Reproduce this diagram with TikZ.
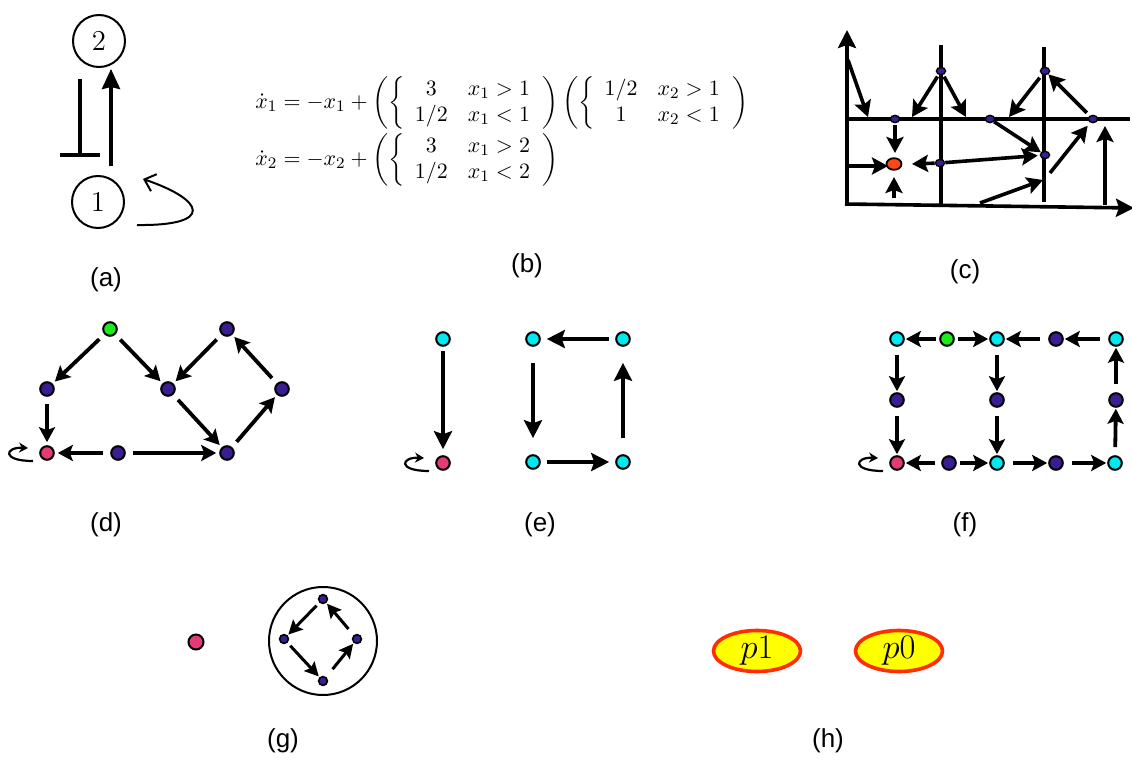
\documentclass[tikz,border=0pt]{standalone}
\usepackage{fontspec}
\usepackage{amsmath}
\newfontfamily\labfont{Liberation Sans}
\usetikzlibrary{arrows.meta,shapes.geometric}
\definecolor{dblue}{RGB}{58,30,145}
\definecolor{ccyan}{RGB}{0,232,240}
\definecolor{cgreen}{RGB}{30,235,30}
\definecolor{cpink}{RGB}{228,58,120}
\definecolor{cred}{RGB}{255,70,20}
\definecolor{pborder}{RGB}{255,45,0}
\definecolor{pyellow}{RGB}{255,255,0}
\begin{document}
\begin{tikzpicture}[x=0.5pt,y=-0.5pt,
  lab/.style={font=\labfont\fontsize{13}{15}\selectfont},
  arr/.style={line width=1.9pt,-{Stealth[length=8pt,width=8pt,inset=1.5pt]}},
  garr/.style={line width=1.5pt,-{Stealth[length=7pt,width=7pt,inset=1.2pt]},shorten <=2pt,shorten >=0.5pt},
  dot/.style={circle,draw=black,line width=1pt,minimum size=6.8pt,inner sep=0pt},
  bdot/.style={dot,fill=dblue},
  cdot/.style={dot,fill=ccyan},
  gdot/.style={dot,fill=cgreen},
  pdot/.style={dot,fill=cpink},
  sdot/.style={ellipse,draw=black,line width=0.7pt,minimum width=4.6pt,minimum height=3.6pt,inner sep=0pt,fill=dblue},
  rdot/.style={ellipse,draw=black,line width=0.9pt,minimum width=7.5pt,minimum height=5.8pt,inner sep=0pt,fill=cred},
  tdot/.style={circle,draw=black,line width=0.8pt,minimum size=4.4pt,inner sep=0pt,fill=dblue},
  loopy/.style={line width=1.1pt,-{Stealth[length=4.5pt,width=5pt]}},
  grid/.style={line width=1.8pt},
  bignode/.style={circle,draw,line width=1pt,minimum size=26pt,inner sep=0pt,font=\fontsize{14}{16}\selectfont},
  pl/.style={ellipse,draw=pborder,fill=pyellow,line width=1.8pt,minimum width=43.5pt,minimum height=20pt,inner sep=0pt,font=\fontsize{17}{20}\selectfont}
]
\useasboundingbox (0,0) rectangle (1132,760);

% ---------------- (a)
\node[bignode] (n2) at (99,41) {$2$};
\node[bignode] (n1) at (98,202) {$1$};
\coordinate (a-s) at (111,166);
\coordinate (a-t) at (111,69);
\draw[line width=1.9pt,-{Stealth[length=10pt,width=9pt,inset=1pt]}] (a-s) -- (a-t);
\coordinate (i-s) at (80,79);
\coordinate (i-t) at (80,157);
\draw[line width=1.9pt,-{Bar[width=20pt,line width=1.9pt]}] (i-s) -- (i-t);
\coordinate (l-s) at (137,225);
\coordinate (l-t) at (143,179);
\draw[line width=1pt,-{Straight Barb[length=5pt,width=9pt,line width=1pt]}] (l-s) .. controls (215,226) and (205,200) .. (l-t);
\node[lab] (la) at (106,280) {(a)};

% ---------------- (b)
\node[anchor=west,inner sep=0pt,font=\fontsize{10.95}{13}\selectfont] (eq1) at (255,103) {$\dot x_1=-x_1+\left(\left\{\begin{array}{cc}3 & x_1>1\\ 1/2 & x_1<1\end{array}\right.\right)\left(\left\{\begin{array}{cc}1/2 & x_2>1\\ 1 & x_2<1\end{array}\right.\right)$};
\node[anchor=west,inner sep=0pt,font=\fontsize{10.95}{13}\selectfont] (eq2) at (255,160) {$\dot x_2=-x_2+\left(\left\{\begin{array}{cc}3 & x_1>2\\ 1/2 & x_1<2\end{array}\right.\right)$};
\node[lab] (lb) at (527,266) {(b)};

% ---------------- (c)
\coordinate (c-o) at (847,205);
\coordinate (c-yt) at (847,30);
\coordinate (c-xo) at (845,204);
\coordinate (c-xt) at (1134,208);
\draw[grid,-{Stealth[length=9pt,width=9pt,inset=1.5pt]}] (c-o) -- (c-yt);
\draw[grid,-{Stealth[length=9pt,width=9pt,inset=1.5pt]}] (c-xo) -- (c-xt);
\draw[grid] (845,119) -- (1130,119);
\draw[grid] (941,45) -- (941,205);
\draw[grid] (1044,47) -- (1044,202);
\node[sdot] (c1) at (895,119) {};
\node[sdot] (c2) at (941,71) {};
\node[sdot] (c3) at (990,119) {};
\node[sdot] (c4) at (1045,71) {};
\node[sdot] (c5) at (1093,119) {};
\node[sdot] (c6) at (1045,155) {};
\node[sdot] (c7) at (940,163) {};
\node[rdot] (c0) at (894,164) {};
\coordinate (ca1s) at (848,60);  \coordinate (ca1e) at (868,117);
\coordinate (ca2e) at (912,117);
\coordinate (ca3e) at (966,117);
\coordinate (ca4e) at (1009,117);
\coordinate (ca7e) at (895,153);
\coordinate (ca8s) at (848,166); \coordinate (ca8e) at (888,166);
\coordinate (ca9e) at (912,164);
\coordinate (ca11s) at (894,198); \coordinate (ca11e) at (894,177);
\coordinate (ca12s) at (980,203); \coordinate (ca12e) at (1043,180);
\coordinate (ca13s) at (1050,173);
\coordinate (ca14s) at (1105,205); \coordinate (ca14e) at (1105,126);
\begin{scope}[every path/.style={line width=1.8pt,-{Stealth[length=8pt,width=8.5pt,inset=1.5pt]}}]
\draw (ca1s) -- (ca1e);
\draw[shorten <=1pt] (c2) -- (ca2e);
\draw[shorten <=1pt] (c2) -- (ca3e);
\draw[shorten <=2pt] (c4) -- (ca4e);
\draw[shorten <=2pt] (c5) -- (c4);
\draw (c3) -- (c6);
\draw[shorten <=1pt] (c1) -- (ca7e);
\draw (ca8s) -- (ca8e);
\draw (c7) -- (ca9e);
\draw[shorten >=1pt] (c7) -- (c6);
\draw (ca11s) -- (ca11e);
\draw (ca12s) -- (ca12e);
\draw[shorten >=2pt] (ca13s) -- (c5);
\draw (ca14s) -- (ca14e);
\end{scope}
\node[lab] (lc) at (965,272) {(c)};

% ---------------- (d)
\node[gdot] (dG) at (110,329) {};
\node[bdot] (dL) at (47,389) {};
\node[bdot] (dM) at (168,389) {};
\node[bdot] (dT) at (227,329) {};
\node[bdot] (dR) at (282,389) {};
\node[pdot] (dP) at (47,453) {};
\node[bdot] (dB) at (118,453) {};
\node[bdot] (dC) at (227,453) {};
\begin{scope}[every path/.style={arr,-{Stealth[length=7.5pt,width=8pt,inset=1.5pt]},shorten <=3.5pt,shorten >=1.5pt}]
\draw (dG) -- (dL);
\draw (dG) -- (dM);
\draw (dT) -- (dM);
\draw (dM) -- (dC);
\draw (dC) -- (dR);
\draw (dR) -- (dT);
\draw (dL) -- (dP);
\draw (dB) -- (dP);
\draw (dB) -- (dC);
\end{scope}
\draw[loopy] ([shift={(-14,8)}]dP.center) .. controls ([shift={(-46,8)}]dP.center) and ([shift={(-42,-6)}]dP.center) .. ([shift={(-19,-5)}]dP.center);
\node[lab] (ld) at (106,525) {(d)};

% ---------------- (e)
\node[cdot] (e0) at (443,339) {};
\node[pdot] (eP) at (443,463) {};
\node[cdot] (e1) at (533,339) {};
\node[cdot] (e2) at (623,339) {};
\node[cdot] (e3) at (533,462) {};
\node[cdot] (e4) at (623,462) {};
\begin{scope}[every path/.style={arr,-{Stealth[length=9pt,width=9pt,inset=1.5pt]}}]
\draw[shorten <=2pt,shorten >=3pt] (e0) -- (eP);
\draw[shorten <=3pt,shorten >=3pt] (e2) -- (e1);
\draw[shorten <=8pt,shorten >=8pt] (e1) -- (e3);
\draw[shorten <=3pt,shorten >=3pt] (e3) -- (e4);
\draw[shorten <=8pt,shorten >=8pt] (e4) -- (e2);
\end{scope}
\draw[loopy] ([shift={(-14,8)}]eP.center) .. controls ([shift={(-46,8)}]eP.center) and ([shift={(-42,-6)}]eP.center) .. ([shift={(-19,-5)}]eP.center);
\node[lab] (le) at (540,525) {(e)};

% ---------------- (f)
\node[cdot] (f11) at (897,339) {};
\node[gdot] (f12) at (947,339) {};
\node[cdot] (f13) at (997,339) {};
\node[bdot] (f14) at (1056,339) {};
\node[cdot] (f15) at (1116,339) {};
\node[bdot] (f21) at (897,400) {};
\node[bdot] (f23) at (997,400) {};
\node[bdot] (f25) at (1116,400) {};
\node[pdot] (f31) at (897,463) {};
\node[bdot] (f32) at (949,463) {};
\node[cdot] (f33) at (997,463) {};
\node[bdot] (f34) at (1056,463) {};
\node[cdot] (f35) at (1115,463) {};
\begin{scope}[every path/.style={arr,-{Stealth[length=7.5pt,width=8pt,inset=1.5pt]},shorten <=1.5pt,shorten >=0.5pt}]
\draw (f12) -- (f11);
\draw (f12) -- (f13);
\draw[shorten <=4pt] (f14) -- (f13);
\draw[shorten <=4pt] (f15) -- (f14);
\draw[shorten <=4pt] (f11) -- (f21);
\draw[shorten <=4pt] (f21) -- (f31);
\draw[shorten <=4pt] (f13) -- (f23);
\draw[shorten <=4pt] (f23) -- (f33);
\draw[shorten <=3pt] (f32) -- (f31);
\draw (f32) -- (f33);
\draw[shorten <=4pt] (f33) -- (f34);
\draw[shorten <=4pt] (f34) -- (f35);
\draw[shorten <=4pt] (f35) -- (f25);
\draw[shorten <=4pt] (f25) -- (f15);
\end{scope}
\draw[loopy] ([shift={(-14,8)}]f31.center) .. controls ([shift={(-46,8)}]f31.center) and ([shift={(-42,-6)}]f31.center) .. ([shift={(-19,-5)}]f31.center);
\node[lab] (lf) at (965,525) {(f)};

% ---------------- (g)
\node[dot,fill=cpink,minimum size=7.5pt] (gP) at (196,642) {};
\node[circle,draw,line width=1pt,minimum size=54pt,inner sep=0pt] (gC) at (323,641) {};
\node[tdot] (gT) at (323,599) {};
\node[tdot] (gL) at (284,639) {};
\node[tdot] (gR) at (357,639) {};
\node[tdot] (gB) at (323,681) {};
\draw[garr] (gT) -- (gL);
\draw[garr] (gL) -- (gB);
\draw[garr,shorten <=5pt] (gB) -- (gR);
\draw[garr,shorten <=4pt] (gR) -- (gT);
\node[lab] (lg) at (283,741) {(g)};

% ---------------- (h)
\node[pl] (p1) at (757,651) {$p1$};
\node[pl] (p0) at (899,651) {$p0$};
\node[lab] (lh) at (828,741) {(h)};
\end{tikzpicture}
\end{document}
